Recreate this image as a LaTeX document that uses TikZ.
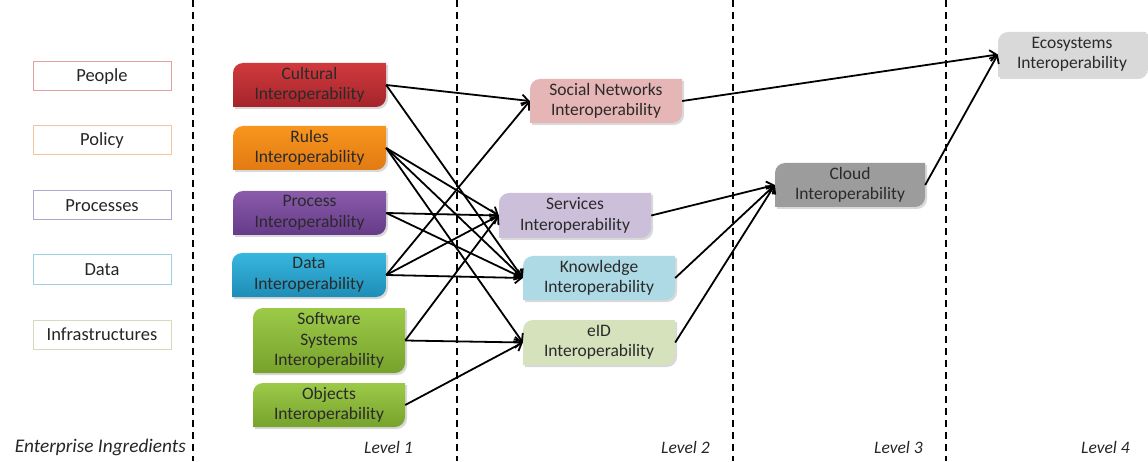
\documentclass[tikz,border=0pt]{standalone}
\usepackage{fontspec}
\setmainfont{Carlito}
\usetikzlibrary{arrows.meta,calc}
\definecolor{txt}{HTML}{262626}
\definecolor{boxtxt}{HTML}{2A2A2A}
\definecolor{bPeople}{HTML}{E2A0A0}
\definecolor{bPolicy}{HTML}{F4C6A0}
\definecolor{bProc}{HTML}{ADA8CB}
\definecolor{bData}{HTML}{9FD0E0}
\definecolor{bInfra}{HTML}{D6DABA}
\definecolor{socialc}{HTML}{E6B5B5}
\definecolor{servc}{HTML}{CBBFDA}
\definecolor{knowc}{HTML}{AEDAE6}
\definecolor{eidc}{HTML}{D6E2BC}
\definecolor{cloudc}{HTML}{9C9C9C}
\definecolor{ecoc}{HTML}{D9D9D9}
\definecolor{cultT}{HTML}{D03A3E}\definecolor{cultB}{HTML}{A4242A}
\definecolor{rulT}{HTML}{F7961E}\definecolor{rulB}{HTML}{E27A12}
\definecolor{proT}{HTML}{8A5BAA}\definecolor{proB}{HTML}{653B88}
\definecolor{datT}{HTML}{38B6DE}\definecolor{datB}{HTML}{1E8DB6}
\definecolor{grnT}{HTML}{9CCA48}\definecolor{grnB}{HTML}{77A22C}
\tikzset{
  lbl/.style={inner sep=0pt, align=center, text=boxtxt, font=\fontsize{17.5}{20.5}\selectfont},
  ingr/.style={draw=#1, line width=1pt, fill=white, minimum width=138pt, minimum height=29pt, inner sep=0pt, text=txt, font=\fontsize{18.5}{21}\selectfont},
  lev/.style={text=txt, inner sep=0pt, font=\fontsize{17.5}{20}\selectfont\itshape},
  sep/.style={line width=2.2pt, dash pattern=on 7pt off 5pt, black},
  arr/.style={line width=1.8pt, black, -{Straight Barb[length=6.5pt,width=11pt,line width=1.8pt]}},
  grad/.style 2 args={top color=#1, bottom color=#2}
}
% #1 name, #2 x-left, #3 x-right, #4 y-top, #5 y-bottom, #6 fill options, #7 text
\newcommand\ibox[7]{%
  \fill[black!15] ({#2+2},{#5-2}) -- ({#2+2},{#4-12}) arc[start angle=180,end angle=90,radius=10pt] -- ({#3+2},{#4-2}) -- ({#3+2},{#5+8}) arc[start angle=0,end angle=-90,radius=10pt] -- cycle;
  \path[#6] (#2,#5) -- (#2,{#4-10}) arc[start angle=180,end angle=90,radius=10pt] -- (#3,#4) -- (#3,{#5+10}) arc[start angle=0,end angle=-90,radius=10pt] -- cycle;
  \node[lbl, minimum width={#3-#2}, minimum height={#4-#5}] (#1) at ({(#2+#3)/2},{(#4+#5)/2}) {#7};
}
\begin{document}
\begin{tikzpicture}[x=1pt,y=1pt]
\useasboundingbox (0,0) rectangle (1148,461);
\fill[white] (0,0) rectangle (1148,461);

% separators
\foreach \xx in {193,457,733,946} \draw[sep] (\xx,461) -- (\xx,0);

% enterprise ingredients
\node[ingr=bPeople] (people) at (102,384.5) {People};
\node[ingr=bPolicy] (policy) at (102,320.5) {Policy};
\node[ingr=bProc] (processes) at (102,255.5) {Processes};
\node[ingr=bData] (datai) at (102,191.5) {Data};
\node[ingr=bInfra] (infra) at (102,126.5) {Infrastructures};

% level 1
\ibox{cult}{233}{386}{398}{354}{grad={cultT}{cultB}}{Cultural\\Interoperability}
\ibox{rules}{233}{386}{335}{291}{grad={rulT}{rulB}}{Rules\\Interoperability}
\ibox{proc}{233}{386}{270}{226}{grad={proT}{proB}}{Process\\Interoperability}
\ibox{data}{232}{386}{208}{164}{grad={datT}{datB}}{Data\\Interoperability}
\ibox{soft}{253}{405}{153}{88}{grad={grnT}{grnB}}{Software\\Systems\\Interoperability}
\ibox{obj}{253}{405}{78}{34}{grad={grnT}{grnB}}{Objects\\Interoperability}

% level 2
\ibox{soc}{530}{682}{382}{338}{fill=socialc}{Social Networks\\Interoperability}
\ibox{serv}{499}{651}{268}{223}{fill=servc}{Services\\Interoperability}
\ibox{know}{523}{675}{205}{161}{fill=knowc}{Knowledge\\Interoperability}
\ibox{eid}{523}{675}{141}{96}{fill=eidc}{eID\\Interoperability}

% level 3 and 4
\ibox{cloud}{775}{925}{298}{254}{fill=cloudc}{Cloud\\Interoperability}
\ibox{eco}{998}{1146}{429}{384}{fill=ecoc}{Ecosystems\\Interoperability}

% level labels
\node[lev, anchor=east, font=\fontsize{19.3}{22}\selectfont\itshape] (l0) at (186,14) {Enterprise Ingredients};
\node[lev, anchor=east] (l1) at (413,14) {Level 1};
\node[lev, anchor=east] (l2) at (710,14) {Level 2};
\node[lev, anchor=east] (l3) at (923,14) {Level 3};
\node[lev, anchor=east] (l4) at (1130,14) {Level 4};

% level 1 -> level 2
\draw[arr] (cult.east) -- (soc.west);
\draw[arr] (cult.east) -- (know.west);
\draw[arr] (rules.east) -- (serv.west);
\draw[arr] (rules.east) -- (know.west);
\draw[arr] (rules.east) -- (eid.west);
\draw[arr] (proc.east) -- (serv.west);
\draw[arr] (proc.east) -- (know.west);
\draw[arr] (data.east) -- (soc.west);
\draw[arr] (data.east) -- (serv.west);
\draw[arr] (data.east) -- (know.west);
\draw[arr] (soft.east) -- (serv.west);
\draw[arr] (soft.east) -- (eid.west);
\draw[arr] (obj.east) -- (eid.west);

% level 2 -> level 3/4
\draw[arr] (soc.east) -- (eco.west);
\draw[arr] (serv.east) -- (cloud.west);
\draw[arr] (know.east) -- (cloud.west);
\draw[arr] (eid.east) -- (cloud.west);
\draw[arr] (cloud.east) -- (eco.west);
\end{tikzpicture}
\end{document}
